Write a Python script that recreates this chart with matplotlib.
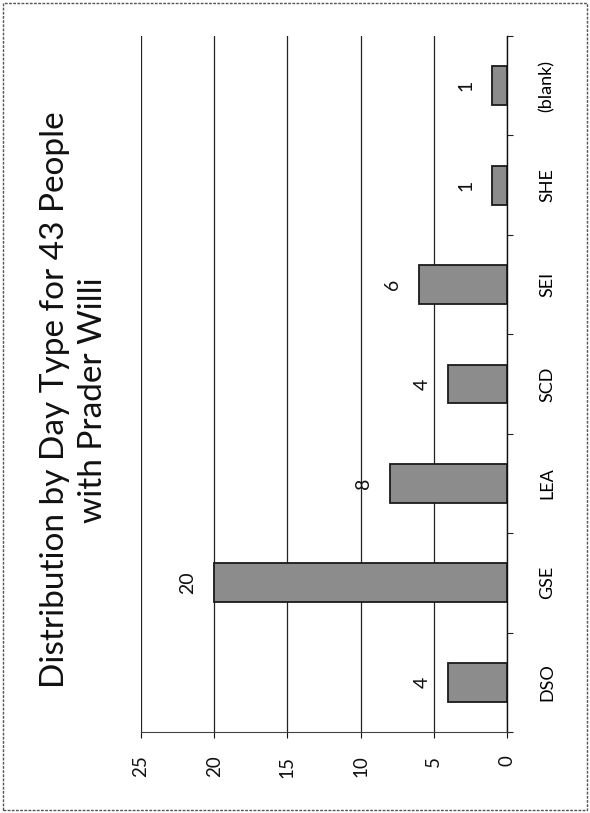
import matplotlib
matplotlib.use("Agg")
import matplotlib.pyplot as plt
from matplotlib.patches import Rectangle
import numpy as np

categories = ["DSO", "GSE", "LEA", "SCD", "SEI", "SHE", "(blank)"]
values = [4, 20, 8, 4, 6, 1, 1]
value_ticks = [0, 5, 10, 15, 20, 25]
title = "Distribution by Day Type for 43 People\nwith Prader Willi"

plt.rcParams['font.family'] = ['Lato', 'DejaVu Sans']

W, H = 590, 813
fig = plt.figure(figsize=(W / 100, H / 100), dpi=100)
fig.patch.set_facecolor('white')

# axes in pixel coords of the rotated chart
x0, x1 = 141, 507
y_top, y_bot = 36, 732
ax = fig.add_axes([x0 / W, 1 - y_bot / H, (x1 - x0) / W, (y_bot - y_top) / H])

pos = np.arange(len(categories))
ax.barh(pos, values, height=0.39, color='#8c8c8c', edgecolor='#1a1a1a',
        linewidth=1.3, zorder=3)

ax.set_xlim(25, 0)
ax.set_ylim(-0.5, len(categories) - 0.5)

# gridlines
ax.set_xticks(value_ticks)
ax.set_xticklabels([str(v) for v in value_ticks], rotation=90, fontsize=13.5)
ax.grid(axis='x', color='#222222', linewidth=0.9, zorder=0)
ax.tick_params(axis='x', direction='out', length=4, width=0.8, pad=13,
               colors='#111111')

# category axis on the right
ax.yaxis.tick_right()
ax.set_yticks(pos)
ax.set_yticklabels(categories, rotation=90, fontsize=13, va='center')
ax.tick_params(axis='y', which='major', length=0, pad=23)
ax.set_yticks(np.arange(-0.5, len(categories), 1.0), minor=True)
ax.tick_params(axis='y', which='minor', direction='out', length=4, width=0.8,
               colors='#222222')

for s in ['top', 'left']:
    ax.spines[s].set_visible(False)
ax.spines['right'].set_color('#111111')
ax.spines['right'].set_linewidth(1.0)
ax.spines['bottom'].set_color('#444444')
ax.spines['bottom'].set_linewidth(0.8)

# data labels
for p, v in zip(pos, values):
    ax.annotate(str(v), xy=(v, p), xytext=(-19, 0), textcoords='offset points',
                rotation=90, ha='center', va='center', fontsize=14,
                color='#111111')

# title
fig.text(74 / W, 1 - 400 / H, title, rotation=90, ha='center', va='center',
         multialignment='center', fontsize=24, linespacing=1.3,
         color='#111111')

# scanned frame
fig.patches.append(Rectangle((3 / W, 3 / H), 1 - 6 / W, 1 - 6 / H,
                             transform=fig.transFigure, fill=False,
                             edgecolor='#555555', linewidth=1.0,
                             linestyle=(0, (2, 1))))

fig.savefig('out.png', dpi=100)
